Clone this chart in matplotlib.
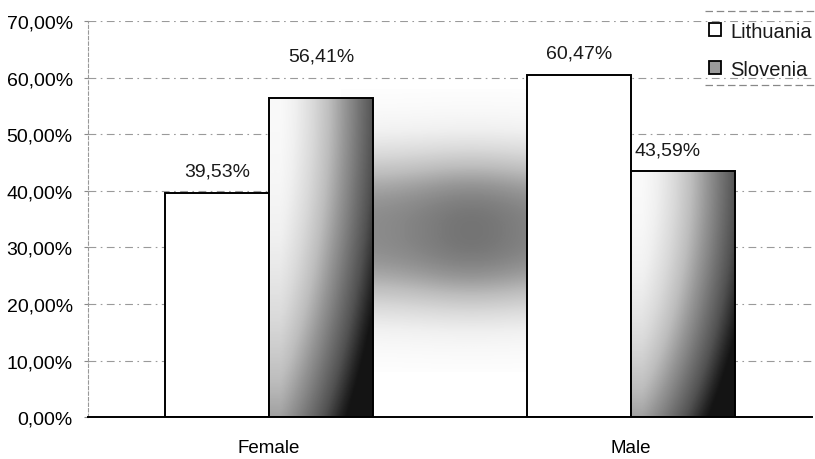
import matplotlib
matplotlib.use("Agg")
import matplotlib.pyplot as plt
import numpy as np
from matplotlib.patches import Rectangle
from matplotlib.lines import Line2D

plt.rcParams['font.family'] = ['Liberation Sans', 'DejaVu Sans']
plt.rcParams['text.color'] = '#1a1a1a'

categories = ['Female', 'Male']
lithuania = [39.53, 60.47]
slovenia = [56.41, 43.59]
yticks = [0, 10, 20, 30, 40, 50, 60, 70]


def pct(v):
    return ('%.2f%%' % v).replace('.', ',')


fig = plt.figure(figsize=(8.15, 4.6), dpi=100)
ax = fig.add_axes([0.108, 0.091, 0.888, 0.861])

x = np.arange(len(categories))
w = 0.287
ax.set_xlim(-0.5, 1.5)
ax.set_ylim(0, 70)

# grey smudge from the scan, a band between the two groups
yy = np.linspace(0, 1, 300)[:, None]
xx = np.linspace(0, 1, 300)[None, :]
band = np.exp(-np.abs((yy - 0.5) / 0.3) ** 2.5)
blob = 0.62 * band * (0.85 + 0.15 * np.exp(-((xx - 0.6) / 0.3) ** 2))
ax.imshow(blob, cmap='Greys', vmin=0, vmax=1, aspect='auto', extent=(0.2, 0.8, 8, 58),
          origin='lower', zorder=0.5)

for v in yticks[1:]:
    ax.axhline(v, color='#9a9a9a', lw=0.8, ls=(0, (7, 4, 1.5, 4)), zorder=0.4)

lit = ax.bar(x - w / 2, lithuania, w, color='white', edgecolor='black', lw=1.4, zorder=2)
slo = ax.bar(x + w / 2, slovenia, w, color='none', edgecolor='black', lw=1.4, zorder=3)

# gradient fill for Slovenia bars (light top-left, dark right and bottom)
gx = np.linspace(0, 1, 120)[None, :]
gy = np.linspace(0, 1, 120)[:, None]
grad = np.clip(0.05 + 0.85 * np.clip(gx - 0.1, 0, 1) ** 1.2 + 0.45 * (1 - gy) ** 2, 0, 1)
for b in slo:
    x0, h, bw = b.get_x(), b.get_height(), b.get_width()
    im = ax.imshow(grad, cmap='Greys', vmin=0, vmax=1.08, aspect='auto',
                   extent=(x0, x0 + bw, 0, h), origin='lower', zorder=2.5)
    im.set_clip_path(Rectangle((x0, 0), bw, h, transform=ax.transData))

# label offsets (points) for Lithuania F, Lithuania M, Slovenia F, Slovenia M
offsets = [(0, 10), (0, 10), (0, 24), (-11, 9)]
bars = list(lit) + list(slo)
vals = lithuania + slovenia
for b, v, (dx, dy) in zip(bars, vals, offsets):
    ax.annotate(pct(v), (b.get_x() + b.get_width() / 2, v), xytext=(dx, dy),
                textcoords='offset points', ha='center', va='bottom', fontsize=14)

ax.set_xticks(x)
ax.set_xticklabels(categories, fontsize=13.5)
ax.tick_params(axis='x', length=0, pad=16)
ax.set_yticks(yticks)
ax.set_yticklabels([pct(v) for v in yticks], fontsize=14)
ax.tick_params(axis='y', length=3, pad=8, color='#888888')

for s in ['top', 'right']:
    ax.spines[s].set_visible(False)
ax.spines['left'].set_color('#999999')
ax.spines['left'].set_linestyle((0, (3, 2)))
ax.spines['left'].set_linewidth(0.8)
ax.spines['bottom'].set_linewidth(1.4)

leg = fig.legend([lit, slo], ['Lithuania', 'Slovenia'], loc='upper right',
                 bbox_to_anchor=(1.018, 0.99), frameon=False, fontsize=14.5,
                 handlelength=0.6, handleheight=0.6, handletextpad=0.45, labelspacing=0.95)
for h in leg.legend_handles:
    h.set_linewidth(1.3)
leg.legend_handles[1].set_facecolor('#9a9a9a')

# dashed rules above and below the legend
for yf in [1 - 12 / 460, 1 - 86 / 460]:
    fig.add_artist(Line2D([705 / 815, 1.0], [yf, yf], color='#888888', lw=0.9,
                          ls=(0, (6, 3)), transform=fig.transFigure))

fig.savefig('out.png', dpi=100)
